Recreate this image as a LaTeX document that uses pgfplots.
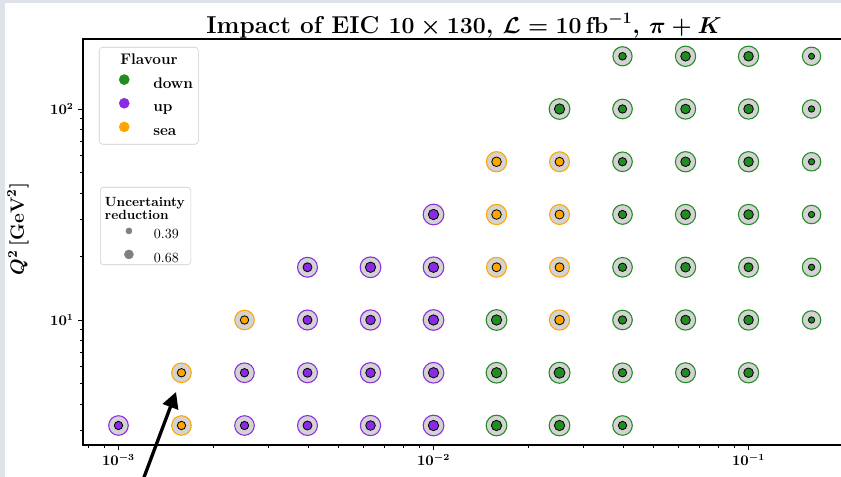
\documentclass[border=0pt]{standalone}
\usepackage{pgfplots}
\pgfplotsset{compat=1.18}
\usepackage{pgfplotstable}
\usetikzlibrary{arrows.meta}

\definecolor{cdown}{HTML}{228B22}
\definecolor{cup}{HTML}{8A2BE2}
\definecolor{csea}{HTML}{FFA500}
\definecolor{ring}{HTML}{D3D3D3}
\definecolor{pagebg}{HTML}{DDE3E8}

% x, Q^2, uncertainty reduction r
\pgfplotstableread{
x y r
0.01585 3.162 0.81
0.02512 3.162 0.81
0.03981 3.162 0.62
0.01585 5.623 0.81
0.02512 5.623 0.87
0.03981 5.623 0.62
0.06310 5.623 0.68
0.1000 5.623 0.74
0.01585 10 0.81
0.03981 10 0.62
0.06310 10 0.74
0.1000 10 0.74
0.1585 10 0.42
0.03981 17.78 0.62
0.06310 17.78 0.74
0.1000 17.78 0.68
0.1585 17.78 0.42
0.03981 31.62 0.62
0.06310 31.62 0.74
0.1000 31.62 0.74
0.1585 31.62 0.42
0.03981 56.23 0.62
0.06310 56.23 0.74
0.1000 56.23 0.74
0.1585 56.23 0.42
0.02512 100 0.81
0.03981 100 0.62
0.06310 100 0.74
0.1000 100 0.74
0.1585 100 0.42
0.03981 177.8 0.55
0.06310 177.8 0.74
0.1000 177.8 0.74
0.1585 177.8 0.39
}\downtab

\pgfplotstableread{
x y r
0.001000 3.162 0.62
0.002512 3.162 0.62
0.003981 3.162 0.68
0.006310 3.162 0.74
0.01000 3.162 0.81
0.002512 5.623 0.62
0.003981 5.623 0.68
0.006310 5.623 0.74
0.01000 5.623 0.81
0.003981 10 0.68
0.006310 10 0.74
0.01000 10 0.81
0.003981 17.78 0.68
0.006310 17.78 0.81
0.01000 17.78 0.81
0.01000 31.62 0.81
}\uptab

\pgfplotstableread{
x y r
0.001585 3.162 0.62
0.001585 5.623 0.62
0.002512 10 0.62
0.02512 10 0.74
0.01585 17.78 0.68
0.02512 17.78 0.68
0.01585 31.62 0.74
0.02512 31.62 0.68
0.01585 56.23 0.74
0.02512 56.23 0.68
}\seatab

% inner dot diameter (px) = 6 + 10.34 (r - 0.39); 1 px = 0.75 pt
\newcommand{\flavourplot}[2]{%
  \addplot[forget plot, only marks, mark=*, scatter,
    scatter/use mapped color={draw=#2, fill=ring},
    mark options={line width=0.8pt},
    visualization depends on={0.375*(15+0.55*(6+10.34*(\thisrow{r}-0.39))) \as \osz},
    scatter/@pre marker code/.append style={/tikz/mark size=\osz pt}]
    table[x=x, y=y] {#1};
  \addplot[forget plot, only marks, mark=*, scatter,
    scatter/use mapped color={draw=black, fill=#2},
    mark options={line width=0.6pt},
    visualization depends on={0.375*(6+10.34*(\thisrow{r}-0.39)) \as \isz},
    scatter/@pre marker code/.append style={/tikz/mark size=\isz pt}]
    table[x=x, y=y] {#1};
}

\pgfplotsset{
  flav/.style={legend image code/.code={%
    \path[draw=none, fill=none] (0pt,0pt) -- (36.5pt,0pt);
    \path[##1, draw=none, fill=none, mark=*, only marks, mark size=3.75pt,
      mark options={##1}] plot coordinates {(14.75pt,3.25pt)};}},
  unc/.style={legend image code/.code={%
    \path[draw=none, fill=none] (0pt,0pt) -- (35.75pt,0pt);
    \path[draw=none, fill=none, mark=*, only marks,
      mark options={fill=gray, draw=gray},
      mark size={0.375*(6+10.34*(#1-0.39))}] plot coordinates {(17pt,3pt)};}},
}

\begin{document}
\begin{tikzpicture}
\path[use as bounding box] (0,0) rectangle (630.75pt,357.75pt);
\fill[pagebg] (0,0) rectangle (630.75pt,357.75pt);
\fill[white] (4pt,0) rectangle (630.75pt,355.5pt);
\clip (0,0) rectangle (630.75pt,357.75pt);

\begin{axis}[
  at={(62.25pt,24pt)}, anchor=south west,
  scale only axis, width=571.5pt, height=304.5pt,
  xmode=log, ymode=log,
  xmin=7.716e-4, xmax=0.2024,
  ymin=2.556, ymax=214.7,
  clip=false,
  axis line style={black, line width=0.8pt},
  tick align=outside,
  xtick pos=left, ytick pos=left,
  major tick length=3.5pt, minor tick length=2pt,
  every tick/.style={black, line width=0.6pt},
  tick label style={font=\fontsize{10.5}{12}\selectfont\boldmath},
  title={Impact of EIC $10\times130$, $\mathcal{L}=10\,\mathrm{fb}^{-1}$, $\pi+K$},
  title style={at={(axis description cs:0.5,1)}, anchor=base, yshift=-2pt,
    inner sep=0pt, font=\fontsize{18.3}{20}\selectfont\bfseries\boldmath},
  ylabel={$Q^2\,[\mathrm{GeV}^2]$},
  ylabel style={at={(axis description cs:-0.0709,0.532)}, anchor=south,
    inner sep=0pt, font=\fontsize{14}{17}\selectfont\boldmath},
  legend cell align=left,
  legend style={at={(axis description cs:0,1)}, anchor=north west,
    xshift=12pt, yshift=-6pt, draw=black!20, rounded corners=2.5pt,
    fill=white, inner xsep=4pt, inner ysep=5pt, row sep=6pt,
    font=\fontsize{11.5}{13}\selectfont\bfseries,
    nodes={inner sep=0pt, text height=8pt, text depth=1.5pt}},
]
\addlegendimage{empty legend}
\addlegendentry{\hspace*{-24.75pt}Flavour}
\addlegendimage{flav, draw=cdown, fill=cdown}
\addlegendentry{down}
\addlegendimage{flav, draw=cup, fill=cup}
\addlegendentry{up}
\addlegendimage{flav, draw=csea, fill=csea}
\addlegendentry{sea}

\flavourplot{\downtab}{cdown}
\flavourplot{\uptab}{cup}
\flavourplot{\seatab}{csea}

\draw[line width=2.5pt, -{Triangle[length=12pt, width=12pt]}]
  (axis cs:1.196e-3,1.745) -- (axis cs:1.523e-3,4.56);
\end{axis}

% size legend
\begin{axis}[
  at={(62.25pt,24pt)}, anchor=south west,
  scale only axis, width=571.5pt, height=304.5pt,
  hide axis, xmin=0, xmax=1, ymin=0, ymax=1,
  legend cell align=left,
  legend style={at={(axis description cs:0,1)}, anchor=north west,
    xshift=12.75pt, yshift=-111pt, draw=black!20, rounded corners=2.5pt,
    fill=white, inner xsep=4.5pt, inner ysep=0.5pt, row sep=7pt,
    font=\fontsize{10.5}{12}\selectfont,
    nodes={inner sep=0pt}},
]
\addlegendimage{empty legend}
\addlegendentry{\hspace*{-36.75pt}\fontsize{10}{10}\selectfont\bfseries
  \raisebox{4.5pt}[\dimexpr\height+6.75pt]{%
  \begin{tabular}{@{}l@{}}\rule{0pt}{12pt}Uncertainty\\[-0.5pt]reduction\end{tabular}}}
\addlegendimage{unc=0.39}
\addlegendentry{0.39}
\addlegendimage{unc=0.68}
\addlegendentry{0.68}
\end{axis}
\end{tikzpicture}
\end{document}
